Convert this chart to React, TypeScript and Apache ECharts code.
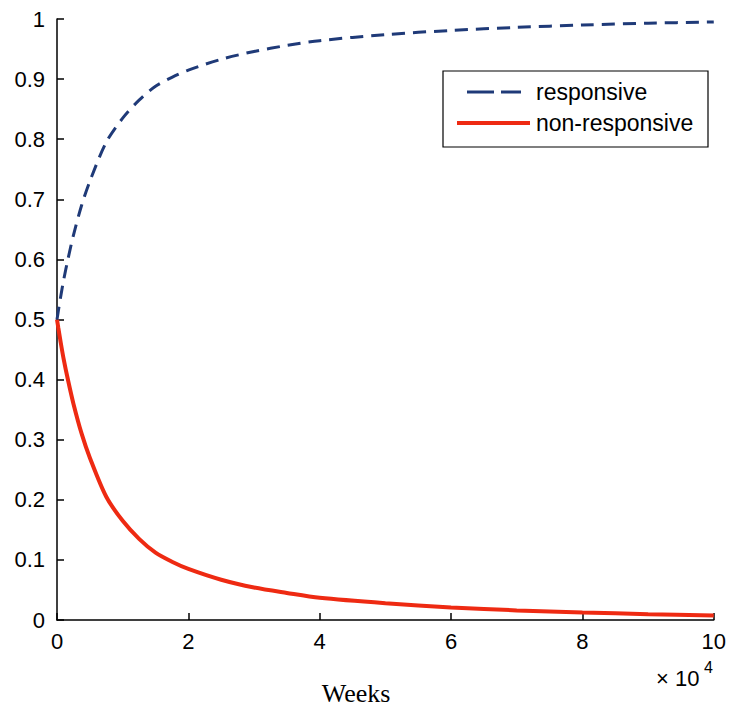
import React, { useEffect, useRef } from "react";
import * as echarts from "echarts";

const weeksX = [0, 0.02, 0.05, 0.1, 0.17, 0.25, 0.375, 0.5, 0.75, 1.0, 1.25, 1.5, 1.75, 2, 2.5, 3, 3.5, 4, 5, 6, 7, 8, 9, 10];
const nonResponsive = [0.5, 0.486, 0.466, 0.435, 0.398, 0.36, 0.31, 0.27, 0.205, 0.165, 0.135, 0.112, 0.097, 0.085, 0.067, 0.054, 0.045, 0.037, 0.028, 0.021, 0.016, 0.0125, 0.0097, 0.0075];
const responsive = [0.5, 0.514, 0.534, 0.565, 0.602, 0.64, 0.69, 0.73, 0.795, 0.835, 0.865, 0.888, 0.903, 0.915, 0.933, 0.946, 0.956, 0.964, 0.974, 0.981, 0.986, 0.99, 0.993, 0.995];
const xTicks = { min: 0, max: 10, interval: 2 };
const yTicks = { min: 0, max: 1, interval: 0.1 };
const legendLabels = ["responsive", "non-responsive"];

const BLUE = "#1f3a78";
const RED = "#ee2a12";

export default function App() {
  const ref = useRef<HTMLDivElement>(null);
  useEffect(() => {
    if (!ref.current) return;
    const chart = echarts.init(ref.current, null, { renderer: "svg" });
    const labelFont = { fontFamily: "Liberation Sans", fontSize: 22, color: "#000" };
    chart.setOption({
      animation: false,
      backgroundColor: "#fff",
      grid: { left: 57, right: 13, top: 19, bottom: 88, containLabel: false },
      xAxis: {
        type: "value",
        min: xTicks.min,
        max: xTicks.max,
        interval: xTicks.interval,
        axisLine: { show: true, onZero: false, lineStyle: { color: "#000", width: 1.5 } },
        axisTick: { show: true, inside: true, length: 7, lineStyle: { color: "#000", width: 1.5 } },
        axisLabel: { ...labelFont, margin: 10 },
        splitLine: { show: false },
      },
      yAxis: {
        type: "value",
        min: yTicks.min,
        max: yTicks.max,
        interval: yTicks.interval,
        axisLine: { show: true, onZero: false, lineStyle: { color: "#000", width: 1.5 } },
        axisTick: { show: true, inside: true, length: 7, lineStyle: { color: "#000", width: 1.5 } },
        axisLabel: { ...labelFont, margin: 12, formatter: (v: number) => String(Math.round(v * 10) / 10) },
        splitLine: { show: false },
      },
      series: [
        {
          name: legendLabels[0],
          type: "line",
          data: weeksX.map((x, i) => [x, responsive[i]]),
          showSymbol: false,
          smooth: 0.3,
          lineStyle: { color: BLUE, width: 3, type: [13, 8] },
          z: 3,
        },
        {
          name: legendLabels[1],
          type: "line",
          data: weeksX.map((x, i) => [x, nonResponsive[i]]),
          showSymbol: false,
          smooth: 0.3,
          lineStyle: { color: RED, width: 4 },
          z: 2,
        },
      ],
      graphic: [
        {
          type: "rect",
          shape: { x: 443, y: 71, width: 265, height: 76 },
          style: { fill: "#fff", stroke: "#000", lineWidth: 1.2 },
          z: 10,
        },
        {
          type: "line",
          shape: { x1: 467, y1: 92, x2: 494, y2: 92 },
          style: { stroke: BLUE, lineWidth: 3 },
          z: 11,
        },
        {
          type: "line",
          shape: { x1: 501, y1: 92, x2: 521, y2: 92 },
          style: { stroke: BLUE, lineWidth: 3 },
          z: 11,
        },
        {
          type: "line",
          shape: { x1: 457, y1: 123, x2: 530, y2: 123 },
          style: { stroke: RED, lineWidth: 4 },
          z: 11,
        },
        {
          type: "text",
          x: 536,
          y: 92,
          style: { text: legendLabels[0], font: "23px 'Liberation Sans'", fill: "#000", verticalAlign: "middle" },
          z: 11,
        },
        {
          type: "text",
          x: 536,
          y: 123,
          style: { text: legendLabels[1], font: "23px 'Liberation Sans'", fill: "#000", verticalAlign: "middle" },
          z: 11,
        },
        {
          type: "text",
          x: 656,
          y: 689,
          style: { text: "× 10", font: "22px 'Liberation Sans'", fill: "#000", verticalAlign: "bottom" },
          z: 11,
        },
        {
          type: "text",
          x: 704,
          y: 675,
          style: { text: "4", font: "16px 'Liberation Sans'", fill: "#000", verticalAlign: "bottom" },
          z: 11,
        },
        {
          type: "text",
          x: 356,
          y: 693,
          style: { text: "Weeks", font: "26px 'Liberation Serif'", fill: "#000", align: "center", verticalAlign: "middle" },
          z: 11,
        },
      ],
    });
    return () => chart.dispose();
  }, []);
  return <div ref={ref} style={{ width: 729, height: 708, position: "absolute", left: 0, top: 0 }} />;
}
